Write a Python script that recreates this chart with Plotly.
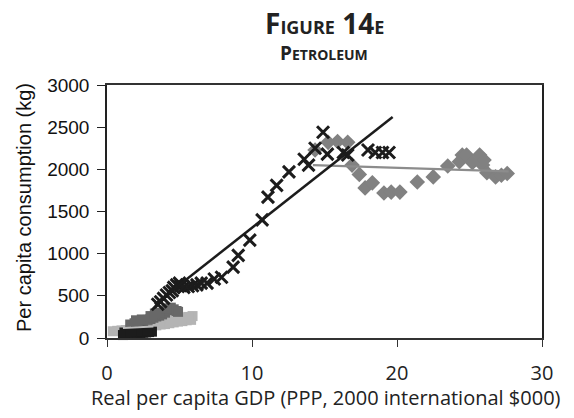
import plotly.graph_objects as go

# Black crosses series
cross_x = [3.5, 3.7, 3.9, 4.1, 4.3, 4.5, 4.6, 4.8, 5.0, 5.1, 5.3, 5.6, 5.9, 6.2, 6.5, 6.9,
           7.4, 7.9, 8.7, 9.05, 9.85, 10.7, 11.1, 11.7, 12.55, 13.6, 13.9, 14.35, 14.9,
           15.2, 16.3, 16.6, 18.0, 18.5, 19.0, 19.45]
cross_y = [400, 430, 470, 510, 540, 560, 600, 630, 650, 620, 600, 610, 620, 630, 650, 650,
           700, 720, 840, 980, 1160, 1400, 1670, 1810, 1970, 2120, 2050, 2250, 2440,
           2180, 2200, 2170, 2230, 2200, 2200, 2200]

# Grey diamonds series
dia_x = [14.35, 15.25, 15.9, 16.6, 16.9, 17.4, 17.8, 18.3, 19.1, 19.6, 20.2, 21.4, 22.5,
         23.5, 24.3, 24.5, 24.8, 25.2, 25.7, 25.9, 26.0, 26.2, 26.8, 27.2, 27.6]
dia_y = [2230, 2320, 2330, 2320, 2050, 1940, 1780, 1840, 1720, 1730, 1730, 1850, 1910,
         2040, 2090, 2170, 2170, 2080, 2170, 2050, 2110, 1960, 1910, 1930, 1950]

# Light grey squares series
lg_x = [0.4, 0.7, 1.0, 1.3, 1.6, 1.9, 2.2, 2.5, 2.8, 3.1, 3.4, 3.7, 4.0, 4.3, 4.6, 4.9,
        5.2, 5.5, 5.8, 5.9, 5.6, 5.0, 4.4]
lg_y = [80, 85, 90, 95, 100, 110, 115, 120, 130, 140, 150, 160, 165, 175, 185, 195,
        200, 210, 215, 260, 250, 235, 215]

# Dark grey series
dg_x = [1.6, 1.9, 2.2, 2.5, 2.8, 3.0, 3.2, 3.4, 3.6, 3.8, 4.0, 4.2, 4.4, 4.6, 4.8, 4.9,
        2.4, 3.0, 3.6, 4.1, 2.0, 3.3]
dg_y = [160, 175, 190, 200, 215, 225, 240, 255, 265, 280, 300, 330, 360, 340, 320, 310,
        220, 260, 300, 350, 210, 290]

# Black squares series
bk_x = [1.1, 1.3, 1.5, 1.7, 1.9, 2.1, 2.3, 2.5, 2.7, 2.9, 3.1, 1.2, 1.6, 2.0, 2.4, 2.8]
bk_y = [35, 40, 45, 50, 55, 58, 60, 63, 66, 70, 75, 65, 72, 78, 82, 85]

# Trend lines
trend_black_x = [3.3, 19.7]
trend_black_y = [400, 2620]
trend_grey_x = [14.2, 27.7]
trend_grey_y = [2050, 1975]
trend_light_x = [1.1, 3.2]
trend_light_y = [118, 135]

fig = go.Figure()
fig.add_trace(go.Scatter(x=lg_x, y=lg_y, mode="markers", cliponaxis=False,
                         marker=dict(symbol="square", size=10, color="#b4b4b4")))
fig.add_trace(go.Scatter(x=dg_x, y=dg_y, mode="markers", cliponaxis=False,
                         marker=dict(symbol="square", size=10, color="#686868")))
fig.add_trace(go.Scatter(x=bk_x, y=bk_y, mode="markers", cliponaxis=False,
                         marker=dict(symbol="square", size=10, color="#1c1c1c")))
fig.add_trace(go.Scatter(x=trend_light_x, y=trend_light_y, mode="lines",
                         line=dict(color="#bdbdbd", width=2)))
fig.add_trace(go.Scatter(x=dia_x, y=dia_y, mode="markers",
                         marker=dict(symbol="diamond", size=12, color="#818181")))
fig.add_trace(go.Scatter(x=trend_grey_x, y=trend_grey_y, mode="lines",
                         line=dict(color="#8c8c8c", width=2.2)))
fig.add_trace(go.Scatter(x=cross_x, y=cross_y, mode="markers",
                         marker=dict(symbol="x-thin", size=12, color="#1c1c1c",
                                     line=dict(width=3, color="#1c1c1c"))))
fig.add_trace(go.Scatter(x=trend_black_x, y=trend_black_y, mode="lines",
                         line=dict(color="#1c1c1c", width=2.5)))

W, H = 574, 418
L, R, T, B = 107, 32, 85, 80
fig.update_layout(
    width=W, height=H, showlegend=False, hovermode=False,
    margin=dict(l=L, r=R, t=T, b=B, pad=0),
    plot_bgcolor="white", paper_bgcolor="white",
    xaxis=dict(range=[0, 30], dtick=10, showgrid=False, zeroline=False,
               showline=True, linecolor="#333", linewidth=1.5, mirror=True,
               ticks="outside", ticklen=7, tickcolor="#333", ticklabelstandoff=9,
               tickfont=dict(family="Open Sans", size=20, color="#222")),
    yaxis=dict(range=[0, 3000], dtick=500, showgrid=False, zeroline=False,
               showline=True, linecolor="#222", linewidth=1.5, mirror=True,
               ticks="outside", ticklen=8, tickcolor="#222", ticklabelstandoff=4,
               tickfont=dict(family="Liberation Sans", size=19, color="#111")),
)

pw = W - L - R
ph = H - T - B
def px(x):
    return (x - L) / pw
def py(y):
    return (H - B - y) / ph

fig.add_annotation(xref="paper", yref="paper", x=px(324), y=py(23), showarrow=False,
                   xanchor="center", yanchor="middle",
                   text=("<b>F<span style='font-size:18px'>IGURE</span> 14"
                         "<span style='font-size:18px'>E</span></b>"),
                   font=dict(family="Open Sans", size=28, color="#222"))
fig.add_annotation(xref="paper", yref="paper", x=px(324), y=py(53), showarrow=False,
                   xanchor="center", yanchor="middle",
                   text="<b>P<span style='font-size:14px'>ETROLEUM</span></b>",
                   font=dict(family="Open Sans", size=19, color="#222"))

fig.add_annotation(xref="paper", yref="paper", x=px(326), y=py(397), showarrow=False,
                   xanchor="center", yanchor="middle",
                   text="Real per capita GDP (PPP, 2000 international $000)",
                   font=dict(family="Open Sans", size=20, color="#222"))
fig.add_annotation(xref="paper", yref="paper", x=px(24), y=py(208), showarrow=False,
                   xanchor="center", yanchor="middle",
                   textangle=-90, text="Per capita consumption (kg)",
                   font=dict(family="Liberation Sans", size=20, color="#111"))

fig.write_html("out.html", config={"displayModeBar": False},
               post_script="document.body.style.margin='0';document.body.style.overflow='hidden';")
